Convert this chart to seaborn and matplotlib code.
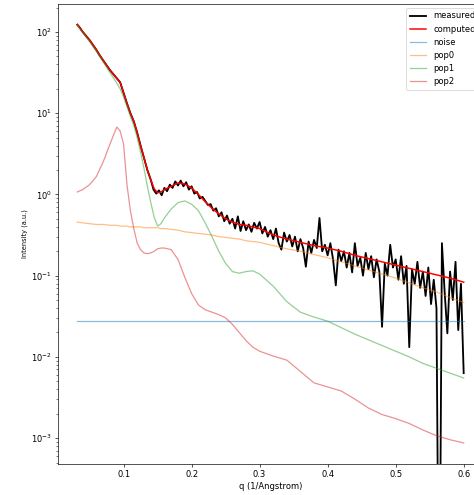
import numpy as np
import matplotlib
matplotlib.use("Agg")
import matplotlib.pyplot as plt
import seaborn as sns

# ---- data ----
q_model = [0.032, 0.04, 0.05, 0.06, 0.07, 0.08, 0.09, 0.095, 0.10, 0.105,
           0.11, 0.115, 0.12, 0.125, 0.13, 0.135, 0.14, 0.145, 0.15, 0.155,
           0.16, 0.17, 0.18, 0.19, 0.20, 0.21, 0.22, 0.23, 0.24, 0.25,
           0.26, 0.27, 0.28, 0.29, 0.30, 0.32, 0.34, 0.36, 0.38, 0.40,
           0.42, 0.44, 0.46, 0.48, 0.50, 0.52, 0.54, 0.56, 0.58, 0.60]

computed_log = [2.09, 2.00, 1.90, 1.78, 1.65, 1.53, 1.43, 1.38, 1.25, 1.12,
                1.00, 0.90, 0.76, 0.60, 0.45, 0.30, 0.18, 0.07, 0.02, 0.03,
                0.06, 0.10, 0.14, 0.13, 0.08, 0.00, -0.09, -0.17, -0.24, -0.30,
                -0.34, -0.37, -0.38, -0.40, -0.42, -0.50, -0.55, -0.59, -0.63, -0.66,
                -0.70, -0.75, -0.79, -0.83, -0.87, -0.91, -0.95, -0.99, -1.03, -1.08]

pop0_log = [-0.34, -0.35, -0.36, -0.37, -0.37, -0.38, -0.38, -0.39, -0.39, -0.39,
            -0.40, -0.40, -0.40, -0.40, -0.41, -0.41, -0.41, -0.41, -0.41, -0.42,
            -0.42, -0.43, -0.44, -0.46, -0.47, -0.48, -0.49, -0.50, -0.52, -0.53,
            -0.54, -0.55, -0.57, -0.58, -0.59, -0.63, -0.67, -0.70, -0.74, -0.78,
            -0.83, -0.88, -0.93, -0.98, -1.03, -1.09, -1.15, -1.20, -1.27, -1.33]

pop1_log = [2.08, 1.99, 1.88, 1.76, 1.63, 1.50, 1.37, 1.30, 1.20, 1.08,
            0.96, 0.85, 0.70, 0.52, 0.32, 0.10, -0.10, -0.28, -0.39, -0.36,
            -0.29, -0.18, -0.10, -0.08, -0.12, -0.20, -0.35, -0.52, -0.70, -0.85,
            -0.95, -0.97, -0.95, -0.94, -0.98, -1.13, -1.32, -1.45, -1.51, -1.56,
            -1.64, -1.72, -1.79, -1.86, -1.93, -2.00, -2.08, -2.14, -2.20, -2.26]

pop2_log = [0.03, 0.06, 0.12, 0.22, 0.40, 0.62, 0.83, 0.78, 0.62, 0.12,
            -0.20, -0.42, -0.60, -0.68, -0.72, -0.73, -0.72, -0.70, -0.67, -0.66,
            -0.66, -0.68, -0.80, -1.02, -1.22, -1.36, -1.42, -1.45, -1.48, -1.52,
            -1.60, -1.70, -1.80, -1.88, -1.93, -1.99, -2.04, -2.18, -2.32, -2.37,
            -2.42, -2.52, -2.63, -2.71, -2.76, -2.82, -2.90, -2.97, -3.02, -3.06]

noise_level = 0.0275

q_meas = [0.032, 0.036, 0.040, 0.045, 0.050, 0.055, 0.060, 0.065, 0.070, 0.075,
          0.080, 0.085, 0.090, 0.095, 0.100, 0.105, 0.110, 0.115, 0.120, 0.125,
          0.130, 0.135, 0.140, 0.144, 0.148, 0.152, 0.156, 0.160, 0.164, 0.168,
          0.172, 0.176, 0.180, 0.184, 0.188, 0.192, 0.196, 0.200, 0.204, 0.208,
          0.212, 0.216,
          0.220, 0.224, 0.228, 0.232, 0.236, 0.240, 0.244, 0.248, 0.252, 0.256,
          0.260, 0.264, 0.268, 0.272, 0.276, 0.280, 0.284, 0.288, 0.292, 0.296,
          0.300, 0.304, 0.308, 0.312, 0.316, 0.320, 0.324, 0.328, 0.332, 0.336,
          0.340, 0.344, 0.348, 0.352, 0.356, 0.360, 0.364, 0.368, 0.372, 0.376,
          0.380, 0.384, 0.388, 0.392, 0.396, 0.400, 0.404, 0.408, 0.412, 0.416,
          0.420, 0.424, 0.428, 0.432, 0.436, 0.440, 0.444, 0.448, 0.452, 0.456,
          0.460, 0.464, 0.468, 0.472, 0.476, 0.480, 0.484, 0.488, 0.492, 0.496,
          0.500, 0.504, 0.508, 0.512, 0.516, 0.520, 0.524, 0.528, 0.532, 0.536,
          0.540, 0.544, 0.548, 0.552, 0.556, 0.560, 0.564, 0.568, 0.572, 0.576,
          0.580, 0.584, 0.588, 0.592, 0.596, 0.600]

measured_log = [2.09, 2.05, 2.00, 1.95, 1.90, 1.84, 1.78, 1.71, 1.65, 1.59,
                1.53, 1.48, 1.43, 1.38, 1.25, 1.12, 1.00, 0.90, 0.76, 0.60,
                0.45, 0.30, 0.18, 0.06, 0.01, 0.05, -0.01, 0.08, 0.04, 0.12,
                0.08, 0.16, 0.11, 0.17, 0.10, 0.15, 0.06, 0.10, 0.01, 0.03,
                -0.05, -0.03,
                -0.08, -0.13, -0.12, -0.20, -0.17, -0.27, -0.22, -0.33, -0.26, -0.36,
                -0.30, -0.42, -0.27, -0.45, -0.33, -0.44, -0.37, -0.46, -0.35, -0.42,
                -0.34, -0.48, -0.40, -0.52, -0.44, -0.55, -0.42, -0.60, -0.68, -0.47,
                -0.58, -0.50, -0.64, -0.52, -0.70, -0.55, -0.66, -0.89, -0.58, -0.72,
                -0.56, -0.66, -0.29, -0.70, -0.62, -0.75, -0.60, -0.80, -1.12, -0.68,
                -0.82, -0.70, -0.90, -0.72, -0.96, -0.60, -0.88, -0.78, -1.00, -0.72,
                -0.92, -0.76, -1.02, -0.80, -0.95, -1.63, -0.85, -1.00, -0.62, -0.90,
                -0.80, -1.05, -0.76, -1.10, -0.88, -1.88, -0.92, -1.10, -0.83, -1.15,
                -0.95, -1.25, -0.90, -1.35, -1.05, -1.40, -6.00, -0.60, -1.20, -1.71,
                -0.95, -1.30, -0.83, -1.67, -1.10, -2.20]

labels = ["measured", "computed", "noise", "pop0", "pop1", "pop2"]

# ---- figure ----
W, H, DPI = 474, 495, 60
fig = plt.figure(figsize=(W / DPI, H / DPI), dpi=DPI)
ax = fig.add_axes([58 / W, (H - 464) / H, 425 / W, 460 / H])

qm = np.array(q_model)
sns.lineplot(x=np.array(q_meas), y=10 ** np.array(measured_log), ax=ax,
             color="black", lw=2.2, label=labels[0])
sns.lineplot(x=qm, y=10 ** np.array(computed_log), ax=ax,
             color="red", lw=1.8, label=labels[1])
sns.lineplot(x=qm, y=np.full(len(qm), noise_level), ax=ax,
             color="C0", lw=1.5, alpha=0.5, label=labels[2])
sns.lineplot(x=qm, y=10 ** np.array(pop0_log), ax=ax,
             color="C1", lw=1.5, alpha=0.5, label=labels[3])
sns.lineplot(x=qm, y=10 ** np.array(pop1_log), ax=ax,
             color="C2", lw=1.5, alpha=0.5, label=labels[4])
sns.lineplot(x=qm, y=10 ** np.array(pop2_log), ax=ax,
             color="C3", lw=1.5, alpha=0.5, label=labels[5])

ax.set_yscale("log")
ax.set_xlim(0.0036, 0.6284)
ax.set_ylim(4.8e-4, 221)
ax.set_xticks([0.1, 0.2, 0.3, 0.4, 0.5, 0.6])
ax.set_xlabel("q (1/Angstrom)")
ax.set_ylabel("Intensity (a.u.)", fontsize=8)
ax.legend(loc="upper right")

fig.savefig("out.png", dpi=DPI)
